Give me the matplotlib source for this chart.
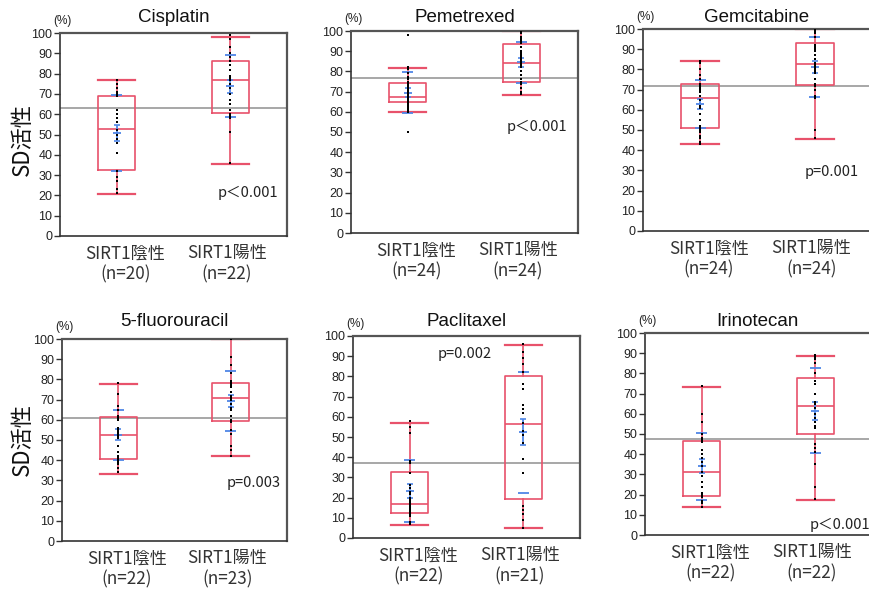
import matplotlib
matplotlib.use("Agg")
import matplotlib.pyplot as plt
from matplotlib.transforms import blended_transform_factory

plt.rcParams['font.family'] = ['Liberation Sans', 'Noto Sans CJK JP', 'DejaVu Sans']

# ---------------- data ----------------
drugs = ["Cisplatin", "Pemetrexed", "Gemcitabine", "5-fluorouracil", "Paclitaxel", "Irinotecan"]
group_names = ["SIRT1陰性", "SIRT1陽性"]
n_counts = [(20, 22), (24, 24), (24, 24), (22, 23), (22, 21), (22, 22)]
p_texts = ["p＜0.001", "p＜0.001", "p=0.001", "p=0.003", "p=0.002", "p＜0.001"]
grand_means = [63, 76.5, 72, 61, 37, 47.5]

# box stats per group: [whisker low, q1, median, q3, whisker high]
cis_box = [[20.5, 32.3, 52.5, 69.0, 77.0], [35.5, 60.5, 77.0, 86.0, 98.0]]
pem_box = [[59.7, 64.7, 67.3, 74.4, 81.5], [68.5, 75.0, 84.0, 93.5, 100.0]]
gem_box = [[43.2, 51.2, 65.7, 72.6, 84.0], [45.5, 72.5, 82.5, 93.0, 100.0]]
flu_box = [[33.4, 40.8, 52.7, 61.2, 77.8], [42.0, 59.5, 71.0, 78.0, 100.0]]
pac_box = [[6.5, 12.5, 17.0, 32.5, 57.0], [5.0, 19.5, 56.5, 80.0, 95.5]]
iri_box = [[14.0, 19.5, 31.0, 46.5, 73.5], [17.5, 50.0, 64.0, 77.5, 88.5]]

# mean, SD, SE per group (blue markers)
cis_mean = [50.8, 73.8]; cis_sd = [18.8, 15.3]; cis_se = [4.0, 3.2]
pem_mean = [69.5, 84.5]; pem_sd = [10.0, 10.0]; pem_se = [2.2, 2.2]
gem_mean = [62.9, 81.3]; gem_sd = [11.9, 14.8]; gem_se = [2.5, 3.0]
flu_mean = [52.5, 69.3]; flu_sd = [12.5, 14.8]; flu_se = [2.7, 3.1]
pac_mean = [23.3, 52.3]; pac_sd = [15.3, 29.8]; pac_se = [3.4, 6.5]
iri_mean = [34.0, 61.5]; iri_sd = [16.5, 21.0]; iri_se = [3.5, 4.5]

# individual points
cis_neg = [77, 75, 73, 71, 70, 69, 62, 60, 58, 56, 52, 50, 48, 46, 41, 32, 29, 27, 23, 21]
cis_pos = [99, 97, 93, 90, 88, 86, 84, 82, 79, 78, 77, 75, 73, 70, 67, 65, 62, 60, 59, 58, 51, 36]
pem_neg = [98, 82, 81, 79, 77, 76, 75, 74, 73, 72, 71, 70, 69, 68, 67, 66, 65, 65, 64, 63, 62, 61, 60, 50]
pem_pos = [100, 99, 97, 96, 95, 94, 92, 90, 89, 88, 87, 86, 85, 84, 83, 82, 80, 78, 76, 75, 74, 72, 70, 69]
gem_neg = [84, 83, 80, 77, 75, 73, 72, 71, 70, 69, 67, 65, 62, 61, 58, 55, 52, 51, 50, 49, 47, 46, 44, 43]
gem_pos = [100, 99, 98, 96, 92, 91, 90, 89, 87, 85, 83, 82, 81, 80, 79, 78, 75, 73, 72, 70, 67, 66, 50, 46]
flu_neg = [78, 73, 67, 65, 62, 61, 60, 56, 55, 54, 53, 52, 51, 47, 44, 42, 41, 40, 39, 38, 36, 34]
flu_pos = [100, 91, 87, 83, 79, 78, 77, 76, 74, 72, 71, 70, 68, 66, 65, 62, 60, 59, 55, 53, 47, 45, 42]
pac_neg = [58, 55, 52, 38, 37, 32, 26, 25, 23, 22, 20, 19, 18, 17, 16, 15, 14, 13, 12, 11, 8, 7]
pac_pos = [96, 92, 89, 86, 82, 76, 74, 66, 64, 62, 57, 53, 51, 47, 39, 32, 16, 14, 12, 9, 5]
iri_neg = [74, 60, 56, 50, 48, 47, 46, 42, 40, 38, 36, 34, 31, 29, 26, 24, 21, 20, 19, 17, 16, 14]
iri_pos = [89, 88, 87, 85, 80, 76, 75, 70, 66, 65, 63, 60, 58, 56, 54, 53, 45, 43, 41, 35, 24, 18]

y_ticks = list(range(0, 101, 10))

boxes = [cis_box, pem_box, gem_box, flu_box, pac_box, iri_box]
means = [cis_mean, pem_mean, gem_mean, flu_mean, pac_mean, iri_mean]
sds = [cis_sd, pem_sd, gem_sd, flu_sd, pac_sd, iri_sd]
ses = [cis_se, pem_se, gem_se, flu_se, pac_se, iri_se]
points = [(cis_neg, cis_pos), (pem_neg, pem_pos), (gem_neg, gem_pos),
          (flu_neg, flu_pos), (pac_neg, pac_pos), (iri_neg, iri_pos)]

# ---------------- layout ----------------
W, H = 870, 592
fig = plt.figure(figsize=(W / 100, H / 100), dpi=100)

axes_px = [(60, 33, 287, 236), (351, 31, 578, 233), (643, 29, 872, 231),
           (62, 339, 287, 541), (353, 336, 580, 538), (645, 333, 872, 535)]
title_y_px = [17, 17, 17, 321, 321, 321]
p_pos = [(0.696, 21.3), (0.687, 52.6), (0.705, 29.0), (0.733, 28.8), (0.374, 91.0), (0.727, 5.0)]

RED = '#e8526b'
BLUE = '#4f86e6'
GRAY = '#a0a0a0'
positions = [1, 2]
label_x = [1.075, 1.97]

for i in range(6):
    l, t, r, b = axes_px[i]
    ax = fig.add_axes([l / W, 1 - b / H, (r - l) / W, (b - t) / H])
    ax.set_xlim(0.5, 2.5)
    ax.set_ylim(0, 100)

    ax.axhline(grand_means[i], color=GRAY, lw=1.3, zorder=1)

    stats = []
    for g in range(2):
        lo, q1, med, q3, hi = boxes[i][g]
        stats.append(dict(whislo=lo, q1=q1, med=med, q3=q3, whishi=hi, fliers=[]))
    ax.bxp(stats, positions=positions, widths=0.33, capwidths=0.33, showfliers=False,
           boxprops=dict(color=RED, lw=1.2), whiskerprops=dict(color=RED, lw=1.2),
           capprops=dict(color=RED, lw=1.6), medianprops=dict(color=RED, lw=1.2),
           manage_ticks=False, zorder=2)

    for g in range(2):
        pos = positions[g]
        m, sd, se = means[i][g], sds[i][g], ses[i][g]
        ax.hlines([m + sd, m - sd], pos - 0.05, pos + 0.05, color=BLUE, lw=1.3, zorder=3)
        ax.vlines(pos, m - se, m + se, color=BLUE, lw=1.3, zorder=3)
        ax.hlines([m - se, m + se], pos - 0.025, pos + 0.025, color=BLUE, lw=1.2, zorder=3)
        ax.hlines(m, pos - 0.035, pos + 0.035, color=BLUE, lw=1.3, zorder=3)
        pts = points[i][g]
        ax.plot([pos] * len(pts), pts, 's', ms=1.9, color='black', zorder=4, mew=0)

    ax.set_yticks(y_ticks)
    ax.set_yticklabels([str(v) for v in y_ticks],
                       fontdict=dict(family=['Liberation Sans Narrow', 'Liberation Sans'], size=9))
    ax.tick_params(axis='y', length=4, width=1, color='#333333', pad=1.5, labelcolor='#222222')
    ax.set_xticks(label_x)
    ax.set_xticklabels([f"{group_names[g]}\n({'n='}{n_counts[i][g]})" for g in range(2)],
                       fontdict=dict(family=['Noto Sans CJK JP', 'DejaVu Sans'], size=12.3),
                       linespacing=1.2)
    ax.tick_params(axis='x', length=0, pad=6, labelcolor='#333333')

    for s in ['left', 'bottom']:
        ax.spines[s].set_color('#333333'); ax.spines[s].set_linewidth(1.2)
    for s in ['top', 'right']:
        ax.spines[s].set_color('#555555'); ax.spines[s].set_linewidth(1.6)

    px, py = p_pos[i]
    ax.text(px, py, p_texts[i], transform=blended_transform_factory(ax.transAxes, ax.transData),
            ha='left', va='center', fontsize=10.5, color='#222222',
            family=['Noto Sans CJK JP', 'DejaVu Sans'])

    cx = (l + min(r, 870)) / 2
    fig.text(cx / W, 1 - title_y_px[i] / H, drugs[i], ha='center', va='center', fontsize=13.5,
             color='#111111')
    fig.text((l + 2) / W, 1 - (t - 12) / H, '(%)', ha='center', va='center', fontsize=8.5,
             color='#222222')

for yc in [140, 440]:
    fig.text(22.5 / W, 1 - yc / H, 'SD活性', rotation=90, ha='center', va='center', fontsize=16,
             family=['Noto Sans CJK JP', 'DejaVu Sans'], color='#111111')

fig.savefig('out.png', dpi=100, facecolor='white')
